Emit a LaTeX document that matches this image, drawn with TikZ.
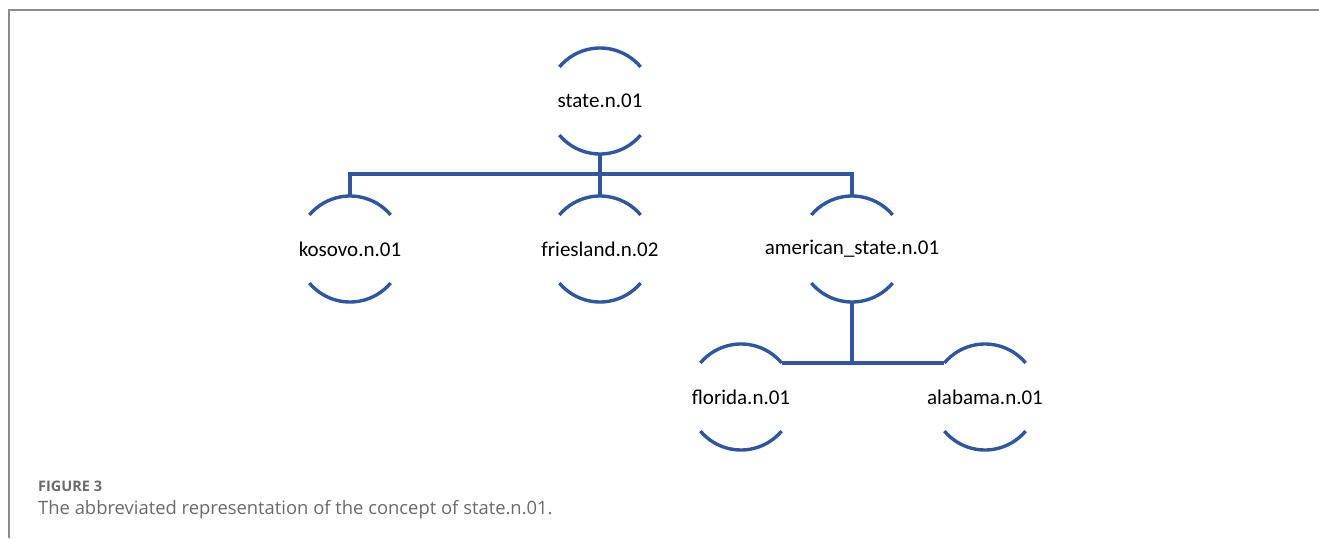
\documentclass[tikz,border=0pt]{standalone}
\usepackage{fontspec}
\setmainfont{Carlito}
\newfontfamily\captionfont{Open Sans}
\usetikzlibrary{positioning,calc}
\definecolor{treeblue}{HTML}{2F55A4}
\definecolor{framegray}{HTML}{8C8C8C}
\definecolor{captiongray}{HTML}{6A6A6A}
\tikzset{
	concept tree/.style={
		x=1pt,y=1pt,
		font=\fontsize{21}{25}\selectfont,
		link/.style={treeblue,line width=3.4pt},
	},
	concept/.style={
		circle,
		inner sep=0pt,
		outer sep=0pt,
		minimum size=106pt,
		label={center:#1}
	},
	cup/.style={
		treeblue,
		line width=3.4pt
	}
}

\begin{document}
\begin{tikzpicture}[concept tree]
	\useasboundingbox (0,0) rectangle (1319,-538);
	% frame
	\draw[framegray,line width=2pt] (9,-538) -- (9,-10) -- (1319,-10);
	% concepts
	\node[concept=state.n.01] (state) at (600,-101) {};
	\node[concept=kosovo.n.01] (kosovo) at (350,-249) {};
	\node[concept=friesland.n.02] (friesland) at (600,-249) {};
	\node[concept=american\_state.n.01] (american) at (852,-249) {};
	\node[concept=florida.n.01] (florida) at (741,-397) {};
	\node[concept=alabama.n.01] (alabama) at (985,-397) {};
	\foreach \n in {state,kosovo,friesland,american,florida,alabama}{
		\draw[cup] (\n.40) arc (40:140:53pt);
		\draw[cup] (\n.220) arc (220:320:53pt);
	}
	% links
	\draw[link] (state.south) -- ++(0,-20) -| (kosovo.north);
	\draw[link] (state.south) -- (friesland.north);
	\draw[link] (state.south) -- ++(0,-20) -| (american.north);
	\draw[link] (american.south) -- (american.south |- florida.40);
	\draw[link] (florida.40) -- (alabama.140);
	% caption
	\node[anchor=base west,inner sep=0pt,text=captiongray,font=\captionfont\bfseries\fontsize{14.5}{16}\selectfont] (figlabel) at (38,-491) {FIGURE 3};
	\node[anchor=base west,inner sep=0pt,text=captiongray,font=\captionfont\fontsize{18.4}{21}\selectfont] (figtext) at (38,-514) {The abbreviated representation of the concept of state.n.01.};
\end{tikzpicture}
\end{document}
